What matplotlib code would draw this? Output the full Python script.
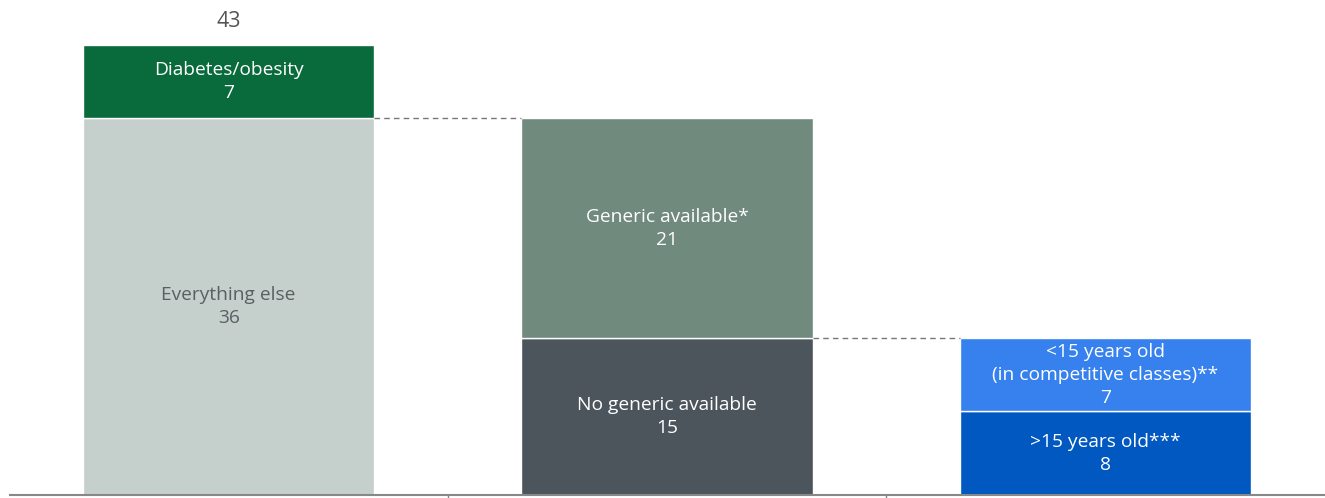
import matplotlib.pyplot as plt

# data
categories = ['Total', 'Non-diabetes', 'No generic']
bottom_labels = ['Everything else', 'No generic available', '>15 years old***']
bottom_values = [36, 15, 8]
top_labels = ['Diabetes/obesity', 'Generic available*', '<15 years old\n(in competitive classes)**']
top_values = [7, 21, 7]
bottom_colors = ['#c5cfcc', '#4d555c', '#0058c0']
top_colors = ['#096b3b', '#718a7e', '#3681ed']
bottom_text = ['#5a5f63', 'white', 'white']
top_text = ['white', 'white', 'white']

plt.rcParams['font.family'] = ['Open Sans', 'DejaVu Sans']

fig = plt.figure(figsize=(13.25, 4.98), dpi=100)
ax = fig.add_axes([9.5 / 1325, 3 / 498, 1315 / 1325, 495 / 498])

x = list(range(len(categories)))
w = 0.664

ax.bar(x, bottom_values, width=w, color=bottom_colors, edgecolor='white', linewidth=1)
ax.bar(x, top_values, width=w, bottom=bottom_values, color=top_colors, edgecolor='white', linewidth=1)

for i in x:
    ax.text(i, bottom_values[i] / 2, f'{bottom_labels[i]}\n{bottom_values[i]}',
            ha='center', va='center', color=bottom_text[i], fontsize=13.8, linespacing=1.35)
    ax.text(i, bottom_values[i] + top_values[i] / 2, f'{top_labels[i]}\n{top_values[i]}',
            ha='center', va='center', color=top_text[i], fontsize=13.8, linespacing=1.35)

# total on first bar
total = bottom_values[0] + top_values[0]
ax.text(0, total + 1.2, str(total), ha='center', va='bottom', color='#555555', fontsize=15.5)

# connector lines
ax.plot([0 + w / 2, 1 - w / 2], [bottom_values[0]] * 2, ls=(0, (4, 3)), color='#777777', lw=1)
ax.plot([1 + w / 2, 2 - w / 2], [bottom_values[1]] * 2, ls=(0, (4, 3)), color='#777777', lw=1)

ax.set_xlim(-0.5, 2.5)
ax.set_ylim(0, 47.3)
for s in ['top', 'right', 'left']:
    ax.spines[s].set_visible(False)
ax.spines['bottom'].set_color('#888888')
ax.spines['bottom'].set_linewidth(1.5)
ax.set_yticks([])
ax.set_xticks([])
ax.set_xticks([0.5, 1.5], minor=True)
ax.tick_params(axis='x', which='minor', direction='out', length=4, color='#888888', width=1, labelbottom=False)

fig.savefig('out.png', dpi=100)
